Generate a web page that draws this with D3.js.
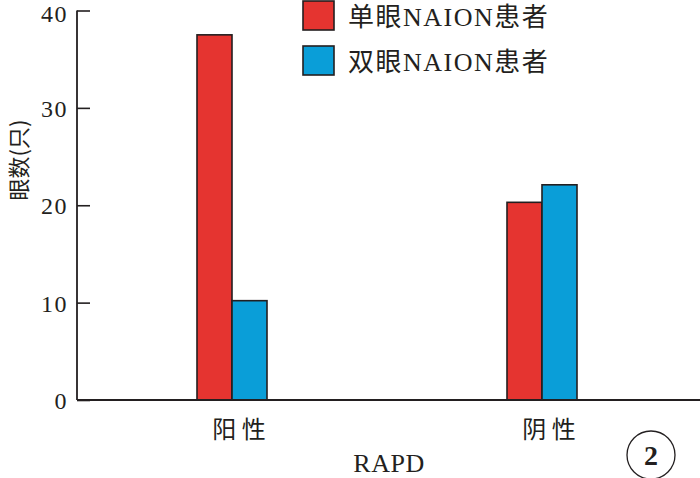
<!DOCTYPE html>
<html><head><meta charset="utf-8">
<script src="https://cdn.jsdelivr.net/npm/d3@7"></script>
<style>body{margin:0;background:#fff}svg{display:block}</style>
</head><body>
<svg id="c" width="700" height="478"></svg>
<script>
const categories = ["阳 性", "阴 性"];
const seriesNames = ["单眼NAION患者", "双眼NAION患者"];
const unilateral = [37.5, 20.3];
const bilateral = [10.2, 22.1];
const yTicks = [0, 10, 20, 30, 40];
const colors = ["#E53430", "#0A9ED8"];

const svg = d3.select("#c");
const serif = "'Liberation Serif','Times New Roman',serif";
const cjk = "'Noto Sans CJK SC',sans-serif";
const ink = "#231f20";

const y = d3.scaleLinear().domain([0, 40]).range([400, 10.5]);
const x = d3.scalePoint().domain(categories).range([77, 697]).padding(0.5);
const xs = d3.scaleBand().domain(seriesNames).range([-35, 35]).padding(0);

const data = categories.map((c, i) => ({cat: c, vals: [unilateral[i], bilateral[i]]}));

// bars
const g = svg.append("g");
data.forEach(d => {
  d.vals.forEach((v, j) => {
    g.append("rect")
      .attr("x", x(d.cat) + xs(seriesNames[j]))
      .attr("y", y(v))
      .attr("width", xs.bandwidth())
      .attr("height", y(0) - y(v))
      .attr("fill", colors[j])
      .attr("stroke", ink)
      .attr("stroke-width", 1.6);
  });
});

// y axis
const yAxis = d3.axisRight(y).tickValues(yTicks).tickSize(13).tickFormat("");
const ya = svg.append("g").attr("transform", "translate(77,0)").call(yAxis);
ya.select(".domain").remove();
ya.selectAll("line").attr("stroke", ink).attr("stroke-width", 1.6);
svg.append("line").attr("x1", 77).attr("x2", 77).attr("y1", y(40)).attr("y2", y(0))
  .attr("stroke", ink).attr("stroke-width", 1.8);
svg.selectAll(".ylab").data(yTicks).enter().append("text")
  .attr("x", 68).attr("y", d => y(d) + (d === 40 ? 11 : 9))
  .attr("text-anchor", "end").attr("font-family", serif).attr("font-size", 24)
  .attr("letter-spacing", 1.5)
  .attr("fill", ink).text(d => d);

// x axis
svg.append("line").attr("x1", 77).attr("x2", 700).attr("y1", y(0)).attr("y2", y(0))
  .attr("stroke", ink).attr("stroke-width", 1.8);
svg.selectAll(".xlab").data(categories).enter().append("text")
  .attr("x", d => x(d) + 7).attr("y", 438)
  .attr("text-anchor", "middle").attr("font-family", cjk).attr("font-size", 24)
  .attr("fill", ink).text(d => d);

svg.append("text").attr("x", 389).attr("y", 472).attr("text-anchor", "middle")
  .attr("font-family", serif).attr("font-size", 26).attr("letter-spacing", 0.5)
  .attr("fill", ink).text("RAPD");

svg.append("text").attr("transform", "translate(27,160) rotate(-90)")
  .attr("text-anchor", "middle").attr("font-family", cjk).attr("font-size", 22)
  .attr("fill", ink).text("眼数(只)");

// legend
seriesNames.forEach((s, i) => {
  const ly = 1 + i * 45;
  svg.append("rect").attr("x", 303).attr("y", ly).attr("width", 31).attr("height", 29)
    .attr("fill", colors[i]).attr("stroke", ink).attr("stroke-width", 1.6);
  svg.append("text").attr("x", 348).attr("y", ly + 25)
    .attr("font-family", "'Liberation Serif','Noto Sans CJK SC',serif")
    .attr("font-size", 26).attr("letter-spacing", 1.5).attr("fill", ink).text(s);
});

// panel marker
svg.append("circle").attr("cx", 651).attr("cy", 455).attr("r", 24)
  .attr("fill", "none").attr("stroke", ink).attr("stroke-width", 1.3);
svg.append("text").attr("x", 651).attr("y", 465).attr("text-anchor", "middle")
  .attr("font-family", serif).attr("font-weight", "bold").attr("font-size", 28)
  .attr("fill", ink).text("2");
</script>
</body></html>
